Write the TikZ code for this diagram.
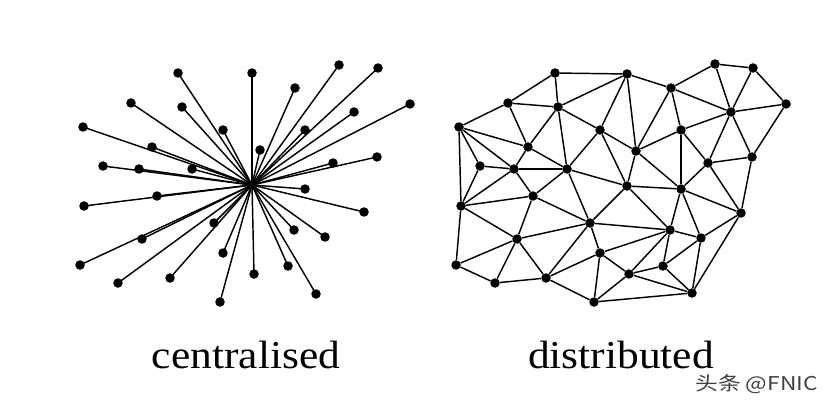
\documentclass[tikz,border=0pt]{standalone}
\usepackage{fontspec}
\setmainfont{Liberation Serif}
\newfontfamily\cjkfont{Noto Sans CJK SC}
\begin{document}
\begin{tikzpicture}[x=1pt,y=-1pt,
  dot/.style={circle,fill=black,inner sep=0pt,minimum size=9.5pt},
  link/.style={line width=1.45pt,black},
  caption/.style={font=\fontsize{39.5}{40}\selectfont,anchor=base,inner sep=0pt},
  wmark/.style={font=\cjkfont\fontsize{19}{19}\selectfont,text=black!75,anchor=base east,inner sep=0pt}]
\useasboundingbox (0,0) rectangle (826,406);
% centralised
\coordinate (hub) at (252,185);
\foreach \n/\x/\y in {1/178/73,2/252/73,3/131/103,4/182/107,5/83/127,6/223/130,7/152/147,
  8/103/166,9/139/169,10/192/169,11/157/196,12/84/206,13/214/223,14/142/239,15/223/253,
  16/80/265,17/254/274,18/170/278,19/118/283,20/220/302,21/339/65,22/378/68,23/295/88,
  24/410/104,25/354/112,26/305/130,27/260/150,28/377/157,29/333/163,30/305/189,
  31/364/212,32/294/230,33/325/237,34/288/266,35/316/294}{
  \node[dot] (L\n) at (\x,\y) {};
  \draw[link] (L\n.center) -- (hub);
}
% distributed
\foreach \n/\x/\y in {a/555/73,b/627/74,c/508/103,d/558/107,e/459/127,f/600/130,g/528/147,
  h/480/166,i/514/169,j/567/169,k/715/64,l/753/68,m/671/88,n/786/104,o/731/112,p/681/130,
  q/636/151,r/752/157,s/708/163,t/627/186,u/681/189,v/533/196,w/461/206,x/590/223,
  y/517/239,z/600/253,A/456/265,B/629/274,C/546/278,D/495/283,E/594/302,F/741/213,
  G/670/230,H/701/238,I/663/266,J/692/293}{
  \node[dot] (D\n) at (\x,\y) {};
}
\foreach \u/\v in {a/b,a/c,a/d,c/d,c/e,d/b,c/g,d/g,d/j,d/f,b/f,e/g,e/h,e/i,e/w,g/i,g/j,h/i,
  f/j,f/t,f/q,j/i,j/t,b/m,b/q,m/k,k/l,k/o,l/o,l/n,m/o,m/p,m/q,o/n,o/p,o/s,o/r,n/r,p/q,p/s,
  p/u,s/r,s/u,s/F,r/F,q/t,q/u,t/u,i/v,j/v,j/x,t/x,w/h,w/i,w/v,w/y,w/A,v/x,v/y,y/x,y/A,
  y/D,y/C,A/D,D/C,C/x,C/z,C/E,x/z,x/G,z/B,z/E,z/G,E/B,E/J,t/G,u/G,u/H,u/F,F/H,F/J,G/H,
  G/I,G/B,H/I,H/J,I/B,I/J,B/J}{
  \draw[link] (D\u) -- (D\v);
}
\node[caption] (cap1) at (246,368) {\scalebox{1.10}[1]{centralised}};
\node[caption] (cap2) at (621,368) {\scalebox{1.10}[1]{distributed}};
\node[wmark] (wm) at (818,390) {\scalebox{1.2}[1]{头条 @FNIC}};
\end{tikzpicture}
\end{document}
